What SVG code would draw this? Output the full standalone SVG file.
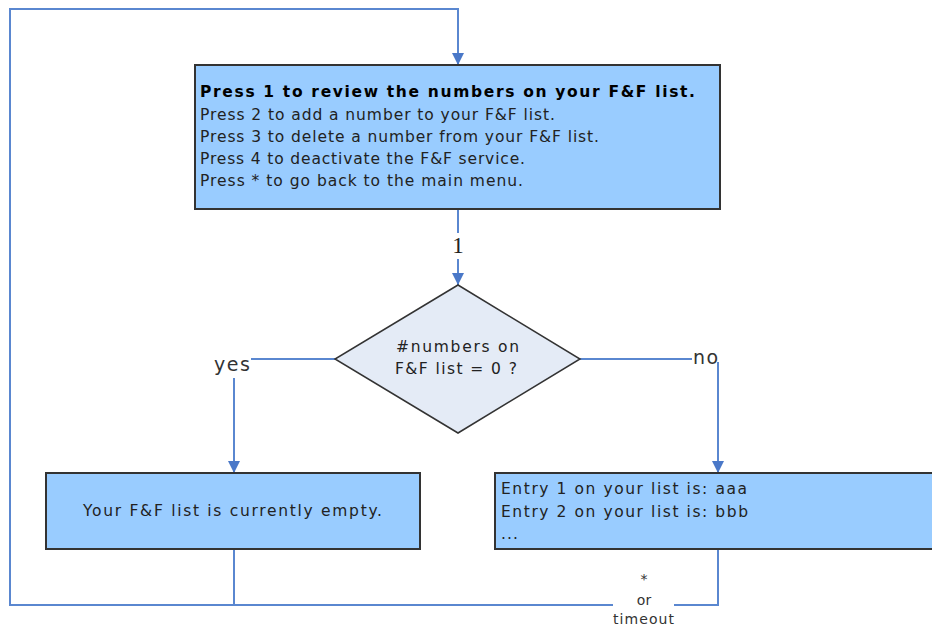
<svg xmlns="http://www.w3.org/2000/svg" width="932" height="628" viewBox="0 0 932 628">
<defs>
<marker id="arr" viewBox="0 0 10 10" refX="10" refY="5" markerWidth="12" markerHeight="12" markerUnits="userSpaceOnUse" orient="auto">
<path d="M0,0 L10,5 L0,10 z" fill="#4a78c8"/>
</marker>
<style>
.box{fill:#99ccff;stroke:#333;stroke-width:2}
.dia{fill:#e4ebf6;stroke:#333;stroke-width:1.5}
.con{fill:none;stroke:#5a87d0;stroke-width:2}
.t{font-family:"DejaVu Sans",Verdana,sans-serif;font-size:15.5px;fill:#222}
.b{font-weight:bold;fill:#000}
.lbl{font-family:"DejaVu Sans",Verdana,sans-serif;font-size:19px;fill:#333}
.s{font-family:"DejaVu Sans",Verdana,sans-serif;font-size:14px;fill:#333}
.serif{font-family:"Liberation Serif","DejaVu Serif",serif;font-size:23px;fill:#222}
</style>
</defs>
<g id="connectors">
<path class="con" d="M234,549 V605 H10 V9 H458 V65" marker-end="url(#arr)"/>
<path class="con" d="M718,549 V605 H674"/>
<path class="con" d="M613,605 H234"/>
<path class="con" d="M458,209 V233"/>
<path class="con" d="M458,259 V285" marker-end="url(#arr)"/>
<path class="con" d="M335,359 H251"/>
<path class="con" d="M234,378 V473" marker-end="url(#arr)"/>
<path class="con" d="M580,359 H692"/>
<path class="con" d="M718,362 V473" marker-end="url(#arr)"/>
<text class="serif" x="458" y="253" text-anchor="middle">1</text>
<text class="lbl" x="214" y="371" textLength="36" lengthAdjust="spacing">yes</text>
<text class="lbl" x="693" y="364" textLength="25" lengthAdjust="spacing">no</text>
<text class="s" x="644" y="584" text-anchor="middle">*</text>
<text class="s" x="644" y="605" text-anchor="middle">or</text>
<text class="s" x="613" y="624" textLength="61" lengthAdjust="spacing">timeout</text>
</g>
<g id="menu">
<rect class="box" x="195" y="65" width="525" height="144"/>
<text class="t b" x="200" y="97" textLength="495" lengthAdjust="spacing">Press 1 to review the numbers on your F&amp;F list.</text>
<text class="t" x="200" y="120" textLength="355" lengthAdjust="spacing">Press 2 to add a number to your F&amp;F list.</text>
<text class="t" x="200" y="142" textLength="399" lengthAdjust="spacing">Press 3 to delete a number from your F&amp;F list.</text>
<text class="t" x="200" y="164" textLength="325" lengthAdjust="spacing">Press 4 to deactivate the F&amp;F service.</text>
<text class="t" x="200" y="186" textLength="323" lengthAdjust="spacing">Press * to go back to the main menu.</text>
</g>
<g id="decision">
<polygon class="dia" points="458,285 580,359 458,433 335,359"/>
<text class="t" x="396" y="352" textLength="123" lengthAdjust="spacing">#numbers on</text>
<text class="t" x="395" y="374" textLength="122" lengthAdjust="spacing">F&amp;F list = 0 ?</text>
</g>
<g id="empty">
<rect class="box" x="46" y="473" width="374" height="76"/>
<text class="t" x="83" y="516" textLength="299" lengthAdjust="spacing">Your F&amp;F list is currently empty.</text>
</g>
<g id="entries">
<rect class="box" x="495" y="473" width="445" height="76"/>
<text class="t" x="501" y="494" textLength="246" lengthAdjust="spacing">Entry 1 on your list is: aaa</text>
<text class="t" x="501" y="517" textLength="247" lengthAdjust="spacing">Entry 2 on your list is: bbb</text>
<text class="t" x="501" y="539" textLength="17" lengthAdjust="spacing">...</text>
</g>
</svg>
